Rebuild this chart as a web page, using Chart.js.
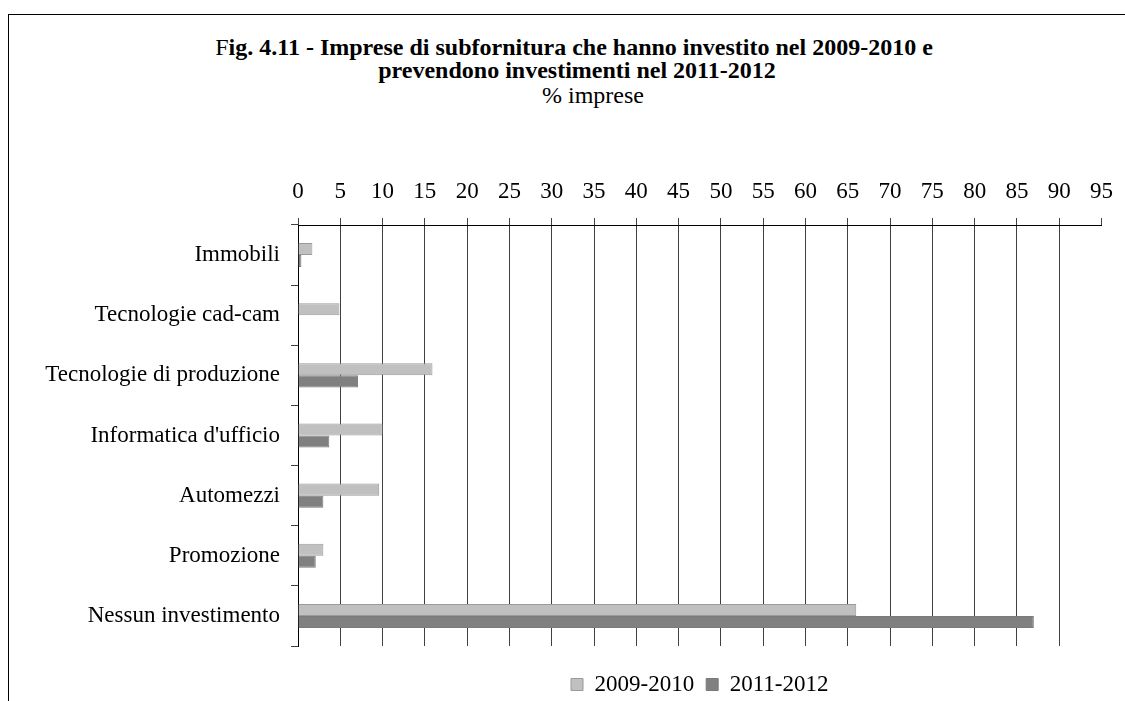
<!DOCTYPE html>
<html>
<head>
<meta charset="utf-8">
<script src="https://cdn.jsdelivr.net/npm/chart.js@4.4.1/dist/chart.umd.min.js"></script>
<style>
  html, body { margin:0; padding:0; background:#fff; overflow:hidden; }
  #wrap { position:relative; width:1125px; height:701px; overflow:hidden; }
  #frame { position:absolute; left:8px; top:14px; width:1400px; height:900px; border:1px solid #000; box-sizing:border-box; }
  .ttl { position:absolute; font-family:"Liberation Serif", "Times New Roman", serif; color:#000; white-space:nowrap; transform:translateX(-50%); }
  .bold { font-weight:bold; font-size:24px; }
  #chartBox { position:absolute; left:0; top:0; width:1125px; height:706px; }
</style>
</head>
<body>
<div id="wrap">
  <div id="frame"></div>
  <div class="ttl bold" style="left:574px;top:34px"><span style="font-weight:normal">F</span>ig. 4.11 - Imprese di subfornitura che hanno investito nel 2009-2010 e</div>
  <div class="ttl bold" style="left:577px;top:57px">prevendono investimenti nel 2011-2012</div>
  <div class="ttl" style="left:593px;top:82px;font-size:24px">% imprese</div>
  <div id="chartBox"><canvas id="chart"></canvas></div>
</div>
<script>
// ── Data ──
const categories = ['Immobili','Tecnologie cad-cam','Tecnologie di produzione',"Informatica d'ufficio",'Automezzi','Promozione','Nessun investimento'];
const seriesNames = ['2009-2010','2011-2012'];
const values0910 = [1.7, 4.9, 15.9, 10.0, 9.6, 3.0, 66.0];
const values1112 = [0.4, 0, 7.1, 3.7, 3.0, 2.1, 87.0];
const xMin = 0, xMax = 95, xStep = 5;

const serif = '"Liberation Serif", "Times New Roman", serif';

const ctx = document.getElementById('chart').getContext('2d');
new Chart(ctx, {
  type: 'bar',
  data: {
    labels: categories,
    datasets: [
      {
        label: seriesNames[0],
        data: values0910,
        backgroundColor: '#c0c0c0',
        borderColor: '#9a9a9a',
        borderWidth: 1,
        categoryPercentage: 0.4,
        barPercentage: 1.0,
      },
      {
        label: seriesNames[1],
        data: values1112,
        backgroundColor: '#808080',
        borderColor: '#7a7a7a',
        borderWidth: 1,
        categoryPercentage: 0.4,
        barPercentage: 1.0,
      }
    ]
  },
  options: {
    indexAxis: 'y',
    responsive: true,
    maintainAspectRatio: false,
    animation: false,
    layout: { padding: { left: 0, right: 22, top: 0, bottom: 0 } },
    plugins: {
      title: { display: false },
      tooltip: { enabled: false },
      legend: {
        position: 'bottom',
        fullSize: false,
        labels: {
          boxWidth: 12,
          boxHeight: 12,
          padding: 12,
          color: '#000',
          font: { family: serif, size: 23 }
        }
      }
    },
    scales: {
      x: {
        position: 'top',
        min: xMin,
        max: xMax,
        afterFit(scale) { scale.height = 225; },
        ticks: { stepSize: xStep, color: '#000', padding: 12, font: { family: serif, size: 23 } },
        grid: {
          color: c => (c.tick && c.tick.value === xMax) ? 'rgba(0,0,0,0)' : '#404040',
          tickColor: '#404040',
          tickLength: 7,
          lineWidth: 1
        },
        border: { display: true, color: '#000', width: 1 }
      },
      // spacer between plot and legend
      gap: {
        type: 'linear',
        axis: 'x',
        position: 'bottom',
        afterFit(scale) { scale.height = 15; },
        ticks: { display: false },
        grid: { display: false },
        border: { display: false }
      },
      y: {
        afterFit(scale) { scale.width = 298; },
        ticks: { color: '#000', padding: 11, font: { family: serif, size: 23 } },
        grid: { offset: true, drawOnChartArea: false, tickLength: 7, color: '#404040' },
        border: { display: true, color: '#000', width: 1 }
      }
    }
  }
});
</script>
</body>
</html>
